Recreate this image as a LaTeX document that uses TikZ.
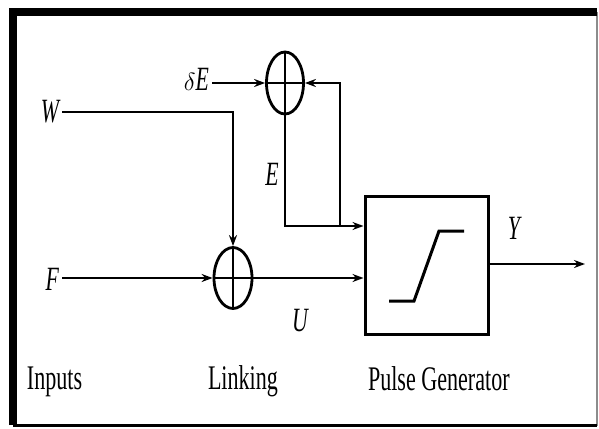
\documentclass[tikz,border=0pt]{standalone}
\usepackage{fontspec}
\setmainfont{Liberation Serif}
\newfontfamily\cond[FakeStretch=0.64]{Liberation Serif}
\usetikzlibrary{arrows.meta,shapes.geometric}
\begin{document}
\begin{tikzpicture}[x=1pt,y=-1pt,
  line width=2pt,
  arr/.style={-{Stealth[length=11pt,width=8pt]}},
  summer/.style={ellipse,draw,line width=2.8pt,inner sep=0pt},
  lbl/.style={font=\cond\itshape\fontsize{34}{34}\selectfont,inner sep=0pt},
  captext/.style={font=\cond\fontsize{34.5}{34.5}\selectfont,inner sep=0pt,anchor=base west},
  blk/.style={draw,line width=3pt,minimum width=123pt,minimum height=138pt,inner sep=0pt}
]
\useasboundingbox (0,0) rectangle (599,428);
% frame
\draw[line width=2pt,black!45] (597,12.5) -- (597,425.5);
\draw[line width=8pt] (12.5,425) -- (12.5,12.5) -- (597,12.5);
\draw[line width=3.5pt] (12.5,425.5) -- (597,425.5);

% summing junctions
\node[summer,minimum width=37pt,minimum height=62pt] (sT) at (285,83) {};
\node[summer,minimum width=38pt,minimum height=61pt] (sB) at (233,278) {};
\draw (sT.north) -- (sT.south) (sT.west) -- (sT.east);
\draw (sB.north) -- (sB.south) (sB.west) -- (sB.east);

% pulse generator block
\node[blk] (pg) at (426.5,265) {};
\draw[line width=3pt] (389,301) -- (414,301) -- (439,231) -- (464,231);

% labels
\node[lbl,anchor=east] (W) at (60,112) {W};
\node[lbl,anchor=east] (F) at (60,279) {F};
\node[lbl,anchor=east] (dE) at (210,79) {$\delta$E};
\node[lbl] (E) at (272,174) {E};
\node[lbl] (U) at (300,321) {U};
\node[lbl] (Y) at (514,228) {Y};

\coordinate (wc) at (233,112);
\coordinate (ec) at (285,226);
\coordinate (fc) at (340,226);
\coordinate (ft) at (340,83);
\coordinate (out) at (585,264);

% connectors
\draw[arr] (dE.east |- sT.west) ++(2,0) -- (sT.west);
\draw[arr] (fc) -- (ft) -- (sT.east);
\draw[arr] (sT.south) -- (ec) -- (pg.west |- ec);
\draw[arr] (W.east) ++(2,0) -- (wc) -- (sB.north);
\draw[arr] (F.east |- sB.west) ++(2,0) -- (sB.west);
\draw[arr] (sB.east) -- (pg.west |- sB.east);
\draw[arr] (pg.east |- out) -- (out);

% captions
\node[captext] (in) at (26,389) {Inputs};
\node[captext] (lk) at (207,389) {Linking};
\node[captext] (pgl) at (367,390) {Pulse Generator};
\end{tikzpicture}
\end{document}
